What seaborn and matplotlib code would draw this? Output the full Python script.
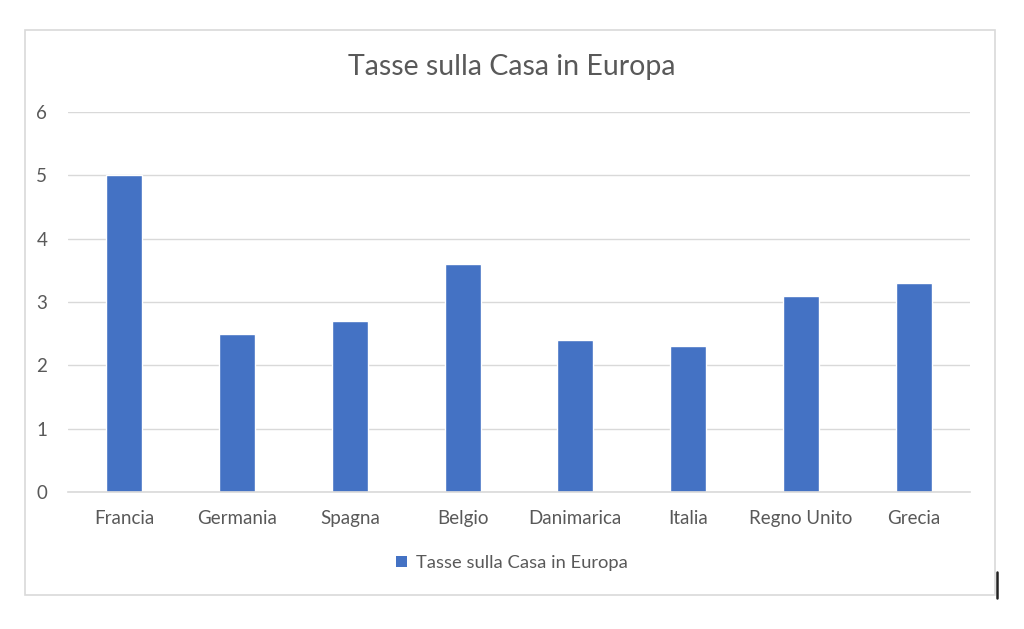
import matplotlib
matplotlib.use("Agg")
import matplotlib.pyplot as plt
import seaborn as sns
from matplotlib.patches import Rectangle, Patch
from matplotlib.lines import Line2D

# =======================
# Data
# =======================
paesi = ["Francia", "Germania", "Spagna", "Belgio", "Danimarica",
         "Italia", "Regno Unito", "Grecia"]
tasse = [5.0, 2.5, 2.7, 3.6, 2.4, 2.3, 3.1, 3.3]
y_ticks = [0, 1, 2, 3, 4, 5, 6]
titolo = "Tasse sulla Casa in Europa"

blue = "#4472C4"
grey_text = "#595959"
grid_col = "#D9D9D9"

sns.set_style("white")
plt.rcParams["font.family"] = ["Lato", "DejaVu Sans"]

fig = plt.figure(figsize=(10.24, 6.29), dpi=100)
ax = fig.add_axes([68 / 1024, 1 - 492 / 629, 902 / 1024, 380 / 629])

sns.barplot(x=paesi, y=tasse, color=blue, width=0.32, saturation=1, ax=ax)

ax.set_ylim(0, 6)
ax.set_yticks(y_ticks)
ax.set_xlim(-0.5, len(paesi) - 0.5)
ax.yaxis.grid(True, color=grid_col, linewidth=1)
ax.set_axisbelow(True)
for side in ["top", "right", "left"]:
    ax.spines[side].set_visible(False)
ax.spines["bottom"].set_color(grid_col)
ax.spines["bottom"].set_linewidth(1.2)
ax.tick_params(axis="both", length=0, labelsize=13.5, colors=grey_text)
ax.tick_params(axis="x", pad=13)
ax.tick_params(axis="y", pad=15)
ax.set_xlabel("")
ax.set_ylabel("")

fig.text(0.5, 1 - 67 / 629, titolo, ha="center", va="center",
         fontsize=20.5, color=grey_text)

handle = Patch(facecolor=blue, edgecolor="none")
fig.legend([handle], [titolo], loc="center", bbox_to_anchor=(0.5, 1 - 563 / 629),
           frameon=False, fontsize=13.2, labelcolor=grey_text,
           handlelength=0.6, handleheight=0.6, handletextpad=0.5)

# chart border
fig.patches.append(Rectangle((25 / 1024, 1 - 595 / 629), 970 / 1024, 565 / 629,
                             transform=fig.transFigure, fill=False,
                             edgecolor=grid_col, linewidth=1.2))
# small dark line at the right edge
fig.lines.append(Line2D([997 / 1024, 997 / 1024], [1 - 598 / 629, 1 - 572 / 629],
                        transform=fig.transFigure, color="#222222", linewidth=1.8))

fig.savefig("out.png", dpi=100, facecolor="white")
